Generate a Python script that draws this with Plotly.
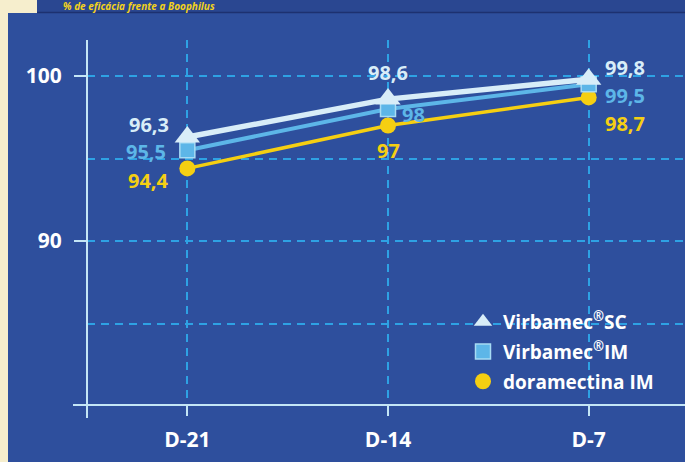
import plotly.graph_objects as go

# ---------------- data ----------------
categories = ['D-21', 'D-14', 'D-7']
virbamec_sc = [96.3, 98.6, 99.8]
virbamec_im = [95.5, 98.0, 99.5]
doramectina_im = [94.4, 97.0, 98.7]
series_names = ['Virbamec<sup>®</sup>SC', 'Virbamec<sup>®</sup>IM', 'doramectina IM']
y_tickvals = [90, 100]
y_ticktext = ['90', '100']
y_minor_grid = [85, 95]
title_text = '% de eficácia frente a Boophilus'

# ---------------- styling ----------------
W, H = 685, 462
L, R, T, B = 87, 0, 40, 57
PW, PH = W - L - R, H - T - B


def px(xp):
    return (xp - L) / PW


def py(yp):
    return (H - B - yp) / PH


FONT = 'Open Sans'
BG = '#2e4f9d'
BAND = '#2a4791'
CREAM = '#f6eecd'
AXIS = '#c4e6f6'
GRID = '#2ea2e4'
C_SC = '#d8edf8'
C_IM = '#5db6e8'
C_DO = '#f5cf12'

series = [
    dict(y=virbamec_sc, name=series_names[0], color=C_SC, lw=5.5, symbol='triangle-up', size=22,
         mline=dict(width=0)),
    dict(y=virbamec_im, name=series_names[1], color=C_IM, lw=4, symbol='square', size=15,
         mline=dict(width=1.5, color='#a7dbf4')),
    dict(y=doramectina_im, name=series_names[2], color=C_DO, lw=3.5, symbol='circle', size=16,
         mline=dict(width=0)),
]

# (xanchor, yanchor, xshift, yshift) for each value label
label_styles = [
    [('right', 'middle', -17, 13), ('center', 'middle', 0, 27), ('left', 'middle', 15, 12)],
    [('right', 'middle', -20, -1), ('left', 'middle', 13, -5.5), ('left', 'middle', 15, -11)],
    [('right', 'middle', -17, -12), ('center', 'top', 0, -10), ('left', 'middle', 15, -26)],
]

fig = go.Figure()

# draw yellow first, then squares, then triangles on top
for s in reversed(series):
    fig.add_trace(go.Scatter(
        x=categories, y=s['y'], mode='lines+markers', showlegend=False,
        line=dict(color=s['color'], width=s['lw']),
        marker=dict(symbol=s['symbol'], size=s['size'], color=s['color'], line=s['mline']),
        hoverinfo='skip'))

# legend entries (markers only)
for i, s in enumerate(series):
    fig.add_trace(go.Scatter(
        x=[None], y=[None], mode='markers', name=s['name'], legendgroup=f'g{i}',
        marker=dict(symbol=s['symbol'], size=s['size'] if i else 20, color=s['color'], line=s['mline'])))

annotations = []
for s, styles in zip(series, label_styles):
    for cat, v, (xa, ya, xs, ys) in zip(categories, s['y'], styles):
        annotations.append(dict(
            x=cat, y=v, xref='x', yref='y', text=f'{v:g}'.replace('.', ','),
            showarrow=False, xanchor=xa, yanchor=ya, xshift=xs, yshift=ys, borderpad=0,
            font=dict(family=FONT, size=20, color=s['color'], weight=700)))

# title in the top band
annotations.append(dict(
    x=px(62), y=py(6.5), xref='paper', yref='paper', text=f'<i>{title_text}</i>',
    showarrow=False, xanchor='left', yanchor='middle', borderpad=0,
    font=dict(family=FONT, size=10, color='#f3d21c', weight=700)))

shapes = [
    # main blue panel
    dict(type='rect', xref='paper', yref='paper', x0=px(8), x1=px(W), y0=py(H), y1=py(13),
         fillcolor=BG, line=dict(width=0), layer='below'),
    # top band
    dict(type='rect', xref='paper', yref='paper', x0=px(37), x1=px(W), y0=py(12), y1=py(0),
         fillcolor=BAND, line=dict(width=0), layer='below'),
    dict(type='line', xref='paper', yref='paper', x0=px(37), x1=px(W), y0=py(12.5), y1=py(12.5),
         line=dict(color='#1d3170', width=1.5), layer='below'),
    # axis lines
    dict(type='line', xref='paper', yref='paper', x0=0, x1=0, y0=py(418), y1=1,
         line=dict(color=AXIS, width=2)),
    dict(type='line', xref='paper', yref='paper', x0=px(73), x1=1, y0=0, y1=0,
         line=dict(color=AXIS, width=2)),
]

fig.update_layout(
    width=W, height=H,
    margin=dict(l=L, r=R, t=T, b=B),
    paper_bgcolor=CREAM,
    plot_bgcolor='rgba(0,0,0,0)',
    font=dict(family=FONT, color='white'),
    showlegend=True,
    legend=dict(x=px(463), y=py(303), xanchor='left', yanchor='top',
                bgcolor='rgba(0,0,0,0)', tracegroupgap=2,
                font=dict(family=FONT, size=19, color='white', weight=700)),
    xaxis=dict(type='category', categoryorder='array', categoryarray=categories,
               range=[-0.5, 2.48], showline=False, zeroline=False,
               showgrid=True, griddash='8px,6px', gridcolor=GRID, gridwidth=1.5,
               ticks='outside', ticklen=10, tickwidth=2, tickcolor=AXIS,
               ticklabelstandoff=6,
               tickfont=dict(family=FONT, size=21, color='white', weight=700)),
    yaxis=dict(range=[100 - (H - B - T - 36) / 16.5, 100 + 36 / 16.5],
               tickvals=y_tickvals, ticktext=y_ticktext,
               showline=False, zeroline=False,
               showgrid=True, griddash='8px,6px', gridcolor=GRID, gridwidth=1.5,
               ticks='outside', ticklen=12, tickwidth=2, tickcolor=AXIS,
               ticklabelstandoff=8,
               tickfont=dict(family=FONT, size=21, color='white', weight=700),
               minor=dict(tickvals=y_minor_grid, showgrid=True, griddash='8px,6px',
                          gridcolor=GRID, gridwidth=1.5, ticks='')),
    shapes=shapes,
    annotations=annotations,
)

fig.write_html('out.html', config={'displayModeBar': False},
               post_script="document.body.style.margin='0px';")
